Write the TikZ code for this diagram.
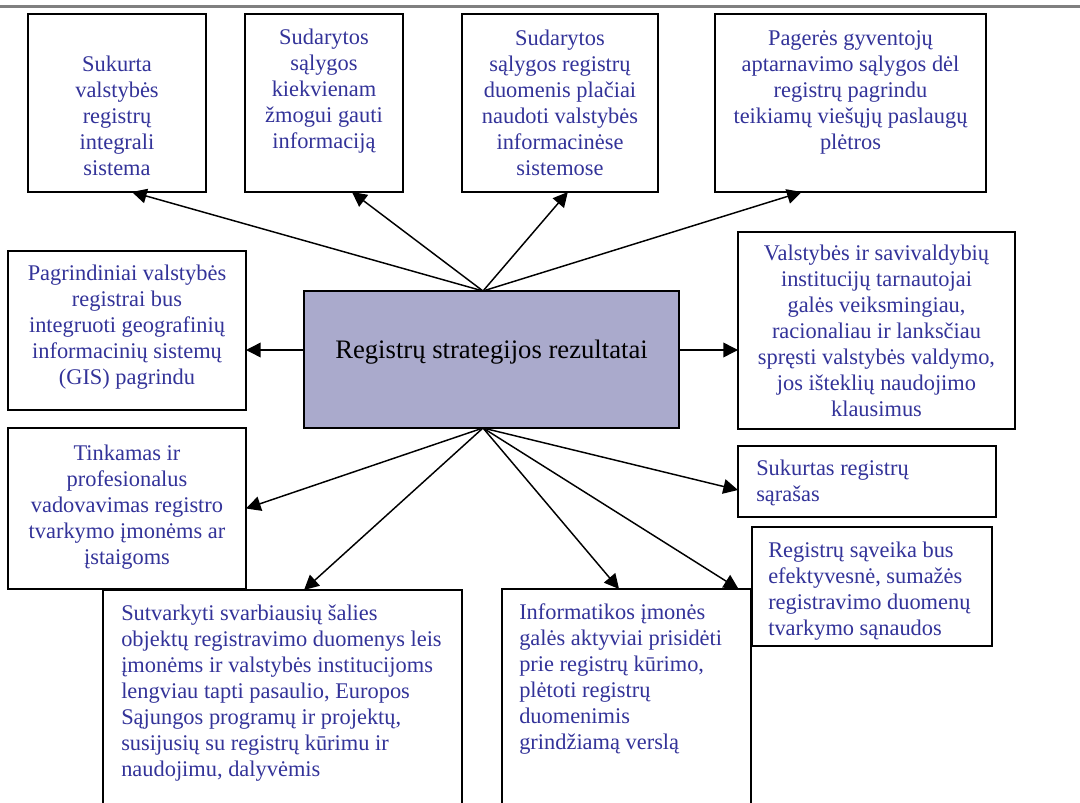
\documentclass[tikz,border=0pt]{standalone}
\usepackage{fontspec}
\setmainfont{Liberation Serif}
\usetikzlibrary{arrows.meta,calc,fit}
\definecolor{txtblue}{RGB}{51,51,153}
\definecolor{hubfill}{RGB}{170,170,204}
\definecolor{rulegray}{RGB}{128,128,128}

\begin{document}
\begin{tikzpicture}[x=0.75pt,y=-0.75pt,
  box/.style={draw=black, line width=1.5pt, fill=white, inner sep=0pt, outer sep=0pt},
  txt/.style={text=txtblue, font=\fontsize{16.8}{19.5}\selectfont, inner sep=0pt, anchor=north},
  ctxt/.style={txt, align=center},
  ltxt/.style={txt, align=left, anchor=north west},
  arr/.style={line width=1.1pt, -{Triangle[length=11pt,width=11pt]}}
]
\useasboundingbox (0,0) rectangle (1080,802);
\clip (0,0) rectangle (1080,802);
\fill[white] (0,0) rectangle (1080,802);

% header rule
\draw[rulegray, line width=2.25pt] (0,7) -- (1080,7);

% boxes
\node[box, fit={(28,14) (206,192)}] (a) {};
\node[box, fit={(245,14) (403,192)}] (b) {};
\node[box, fit={(462,14) (658,192)}] (c) {};
\node[box, fit={(715,14) (986,192)}] (d) {};
\node[box, fit={(8,251) (246,410)}] (pag) {};
\node[box, fit={(738,232) (1015,429)}] (val) {};
\node[box, fill=hubfill, fit={(304,291) (679,428)}] (res) {};
\node[box, fit={(103,590) (462,830)}] (sut) {};
\node[box, fit={(8,428) (246,589)}] (tink) {};
\node[box, fit={(738,446) (996,517)}] (suk) {};
\node[box, fit={(502,589) (751,830)}] (inf) {};
\node[box, fit={(752,527) (992,646)}] (sav) {};

% texts
\node[ctxt] (ta) at ($(a.north)+(0,42)$) {Sukurta\\valstybės\\registrų\\integrali\\sistema};
\node[ctxt] (tb) at ($(b.north)+(0,15)$) {Sudarytos\\sąlygos\\kiekvienam\\žmogui gauti\\informaciją};
\node[ctxt] (tc) at ($(c.north)+(0,16)$) {Sudarytos\\sąlygos registrų\\duomenis plačiai\\naudoti valstybės\\informacinėse\\sistemose};
\node[ctxt] (td) at ($(d.north)+(0,16)$) {Pagerės gyventojų\\aptarnavimo sąlygos dėl\\registrų pagrindu\\teikiamų viešųjų paslaugų\\plėtros};
\node[ctxt] (tpag) at ($(pag.north)+(0,14)$) {Pagrindiniai valstybės\\registrai bus\\integruoti geografinių\\informacinių sistemų\\(GIS) pagrindu};
\node[ctxt] (tval) at ($(val.north)+(0,13)$) {Valstybės ir savivaldybių\\institucijų tarnautojai\\galės veiksmingiau,\\racionaliau ir lanksčiau\\spręsti valstybės valdymo,\\jos išteklių naudojimo\\klausimus};
\node[txt, text=black, font=\fontsize{20}{24}\selectfont] (tres) at ($(res.north)+(0,49)$) {Registrų strategijos rezultatai};
\node[ctxt] (ttink) at ($(tink.north)+(0,17)$) {Tinkamas ir\\profesionalus\\vadovavimas registro\\tvarkymo įmonėms ar\\įstaigoms};
\node[ltxt] (tsuk) at ($(suk.north west)+(18,14)$) {Sukurtas registrų\\sąrašas};
\node[ltxt] (tsav) at ($(sav.north west)+(16,15)$) {Registrų sąveika bus\\efektyvesnė, sumažės\\registravimo duomenų\\tvarkymo sąnaudos};
\node[ltxt] (tsut) at ($(sut.north west)+(18,15)$) {Sutvarkyti svarbiausių šalies\\objektų registravimo duomenys leis\\įmonėms ir valstybės institucijoms\\lengviau tapti pasaulio, Europos\\Sąjungos programų ir projektų,\\susijusių su registrų kūrimu ir\\naudojimu, dalyvėmis};
\node[ltxt] (tinf) at ($(inf.north west)+(17,14)$) {Informatikos įmonės\\galės aktyviai prisidėti\\prie registrų kūrimo,\\plėtoti registrų\\duomenimis\\grindžiamą verslą};

% hub points on the central box
\coordinate (hubN) at ($(res.north)+(-8.5,0)$);
\coordinate (hubS) at ($(res.south)+(-8.5,0)$);
\coordinate (hubW) at ($(res.west)+(0,-9.5)$);
\coordinate (hubE) at ($(res.east)+(0,-9.5)$);

% connectors upward
\draw[arr] (hubN) -- ($(a.south west)!0.584!(a.south east)$);
\draw[arr] (hubN) -- ($(b.south west)!0.677!(b.south east)$);
\draw[arr] (hubN) -- ($(c.south west)!0.54!(c.south east)$);
\draw[arr] (hubN) -- ($(d.south west)!0.32!(d.south east)$);

% connectors sideways
\draw[arr] (hubW) -- (pag.east |- hubW);
\draw[arr] (hubE) -- (val.west |- hubE);

% connectors downward
\draw[arr] (hubS) -- (tink.east);
\draw[arr] (hubS) -- ($(suk.west)+(0,8.5)$);
\draw[arr] (hubS) -- ($(sut.north west)!0.56!(sut.north east)$);
\draw[arr] (hubS) -- ($(inf.north west)!0.47!(inf.north east)$);
\draw[arr] (hubS) -- ($(inf.north west)!0.95!(inf.north east)$);
\end{tikzpicture}
\end{document}
